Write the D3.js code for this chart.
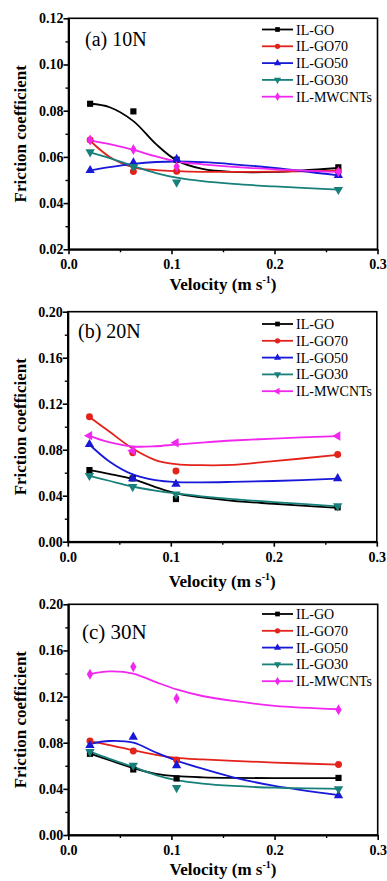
<!DOCTYPE html>
<html>
<head>
<meta charset="utf-8">
<script src="https://cdn.jsdelivr.net/npm/d3@7"></script>
<style>
  body { margin: 0; background: #fff; }
  svg text { font-family: "Liberation Serif", "Times New Roman", serif; }
</style>
</head>
<body>
<svg id="chart" width="387" height="881"></svg>
<script>
// sliding velocity of the measured points (m/s)
const velocity = [0.021, 0.063, 0.105, 0.262];
const fitVelocity = [0.021, 0.04, 0.063, 0.085, 0.105, 0.13, 0.16, 0.2, 0.262];

const seriesNames = ['IL-GO', 'IL-GO70', 'IL-GO50', 'IL-GO30', 'IL-MWCNTs'];
const seriesColors = ['#000000', '#e3221b', '#1818d8', '#17807a', '#f227ef'];

const panelTitles = ['(a) 10N', '(b) 20N', '(c) 30N'];
const xTicks = [0.0, 0.1, 0.2, 0.3];
const yTicksA = [0.02, 0.04, 0.06, 0.08, 0.10, 0.12];
const yTicksBC = [0.00, 0.04, 0.08, 0.12, 0.16, 0.20];

// (a) 10N
const pointsA = [
    [0.0830, 0.0797, 0.0588, 0.0555],
    [0.0673, 0.0537, 0.0538, 0.0536],
    [0.0542, 0.0575, 0.0590, 0.0520],
    [0.0621, 0.0558, 0.0490, 0.0458],
    [0.0673, 0.0632, 0.0558, 0.0536]
];
const fitA = [
    [0.0830, 0.0815, 0.0755, 0.0655, 0.0585, 0.0548, 0.0535, 0.0535, 0.0552],
    [0.0670, 0.0600, 0.0555, 0.0543, 0.0538, 0.0535, 0.0535, 0.0536, 0.0540],
    [0.0542, 0.0556, 0.0570, 0.0578, 0.0580, 0.0577, 0.0568, 0.0552, 0.0520],
    [0.0620, 0.0595, 0.0560, 0.0530, 0.0510, 0.0495, 0.0483, 0.0472, 0.0458],
    [0.0672, 0.0655, 0.0630, 0.0602, 0.0580, 0.0568, 0.0557, 0.0546, 0.0535]
];

// (b) 20N
const pointsB = [
    [0.0623, 0.0550, 0.0371, 0.0299],
    [0.1087, 0.0774, 0.0614, 0.0759],
    [0.0846, 0.0550, 0.0501, 0.0550],
    [0.0574, 0.0478, 0.0414, 0.0310],
    [0.0922, 0.0791, 0.0860, 0.0919]
];
const fitB = [
    [0.0622, 0.0590, 0.0545, 0.0475, 0.0420, 0.0385, 0.0355, 0.0330, 0.0295],
    [0.1085, 0.0960, 0.0810, 0.0710, 0.0675, 0.0665, 0.0668, 0.0700, 0.0755],
    [0.0845, 0.0700, 0.0585, 0.0535, 0.0518, 0.0516, 0.0520, 0.0528, 0.0548],
    [0.0572, 0.0530, 0.0480, 0.0445, 0.0420, 0.0395, 0.0370, 0.0345, 0.0308],
    [0.0920, 0.0865, 0.0828, 0.0830, 0.0845, 0.0862, 0.0880, 0.0897, 0.0918]
];

// (c) 30N
const pointsC = [
    [0.0704, 0.0568, 0.0490, 0.0495],
    [0.0815, 0.0728, 0.0650, 0.0611],
    [0.0777, 0.0850, 0.0603, 0.0343],
    [0.0722, 0.0603, 0.0409, 0.0400],
    [0.1394, 0.1458, 0.1183, 0.1086]
];
const fitC = [
    [0.0705, 0.0648, 0.0580, 0.0530, 0.0510, 0.0500, 0.0495, 0.0493, 0.0493],
    [0.0812, 0.0780, 0.0735, 0.0695, 0.0668, 0.0655, 0.0643, 0.0628, 0.0610],
    [0.0790, 0.0815, 0.0800, 0.0715, 0.0645, 0.0575, 0.0500, 0.0425, 0.0345],
    [0.0722, 0.0660, 0.0590, 0.0520, 0.0475, 0.0445, 0.0425, 0.0410, 0.0400],
    [0.1395, 0.1418, 0.1400, 0.1325, 0.1262, 0.1205, 0.1162, 0.1120, 0.1090]
];

const panels = [
    { title: panelTitles[0], points: pointsA, fit: fitA, yDomain: [0.02, 0.12], yTicks: yTicksA, minorStep: 0.01,
      left: 68.5, right: 377.5, top: 18.3, bottom: 249.3, titleX: 85, titleY: 46, titleSize: 20,
      legendY: 29.5, xTitleY: 290, lastMarker: 'diamond' },
    { title: panelTitles[1], points: pointsB, fit: fitB, yDomain: [0, 0.2], yTicks: yTicksBC, minorStep: 0.02,
      left: 67.8, right: 376.8, top: 311.7, bottom: 541.7, titleX: 78, titleY: 338, titleSize: 20,
      legendY: 324, xTitleY: 587, lastMarker: 'left' },
    { title: panelTitles[2], points: pointsC, fit: fitC, yDomain: [0, 0.2], yTicks: yTicksBC, minorStep: 0.02,
      left: 68.3, right: 377.7, top: 604.3, bottom: 835, titleX: 82, titleY: 639, titleSize: 21,
      legendY: 614, xTitleY: 875, lastMarker: 'diamond' }
];

const serif = '"Liberation Serif", "Times New Roman", serif';
const svg = d3.select('#chart');

function markerPath(kind, size) {
    const types = {
        square: d3.symbolSquare, circle: d3.symbolCircle, up: d3.symbolTriangle,
        down: d3.symbolTriangle, diamond: d3.symbolDiamond, left: d3.symbolTriangle
    };
    return d3.symbol().type(types[kind]).size(size)();
}
function markerRotate(kind) {
    if (kind === 'down') return 180;
    if (kind === 'left') return -90;
    return 0;
}

panels.forEach(p => {
    const x = d3.scaleLinear().domain([0, 0.3]).range([p.left, p.right]);
    const y = d3.scaleLinear().domain(p.yDomain).range([p.bottom, p.top]);
    const markers = ['square', 'circle', 'up', 'down', p.lastMarker];

    const g = svg.append('g').attr('font-family', serif);

    // frame
    g.append('rect')
        .attr('x', p.left).attr('y', p.top)
        .attr('width', p.right - p.left).attr('height', p.bottom - p.top)
        .attr('fill', 'none').attr('stroke', '#000').attr('stroke-width', 1.6);

    // bottom axis
    const xAxis = g.append('g')
        .attr('transform', `translate(0, ${p.bottom})`)
        .call(d3.axisBottom(x).tickValues(xTicks).tickSize(5).tickSizeOuter(0).tickFormat(d3.format('.1f')))
        .attr('font-family', serif);
    xAxis.select('.domain').attr('stroke-width', 2);
    xAxis.selectAll('.tick line').attr('stroke-width', 1.6);
    xAxis.selectAll('text')
        .attr('font-size', 14).attr('font-weight', 'bold').attr('fill', '#000')
        .attr('dy', '0.85em');
    g.append('g')
        .attr('transform', `translate(0, ${p.bottom})`)
        .call(d3.axisBottom(x).tickValues([0.05, 0.15, 0.25]).tickSize(3).tickFormat(''))
        .call(s => s.select('.domain').remove())
        .selectAll('.tick line').attr('stroke-width', 1.4);

    // left axis
    const yAxis = g.append('g')
        .attr('transform', `translate(${p.left}, 0)`)
        .call(d3.axisLeft(y).tickValues(p.yTicks).tickSize(5).tickSizeOuter(0).tickFormat(d3.format('.2f')))
        .attr('font-family', serif);
    yAxis.select('.domain').attr('stroke-width', 2);
    yAxis.selectAll('.tick line').attr('stroke-width', 1.6);
    yAxis.selectAll('text')
        .attr('font-size', 14).attr('font-weight', 'bold').attr('fill', '#000')
        .attr('x', -5);
    const minorY = d3.range(p.yDomain[0] + p.minorStep, p.yDomain[1], p.minorStep * 2);
    g.append('g')
        .attr('transform', `translate(${p.left}, 0)`)
        .call(d3.axisLeft(y).tickValues(minorY).tickSize(3).tickFormat(''))
        .call(s => s.select('.domain').remove())
        .selectAll('.tick line').attr('stroke-width', 1.4);

    // fitted curves
    const line = d3.line()
        .x((d, i) => x(fitVelocity[i]))
        .y(d => y(d))
        .curve(d3.curveCatmullRom.alpha(0.5));
    p.fit.forEach((vals, s) => {
        g.append('path')
            .attr('d', line(vals))
            .attr('fill', 'none')
            .attr('stroke', seriesColors[s])
            .attr('stroke-width', 1.8);
    });

    // measured points
    p.points.forEach((vals, s) => {
        g.selectAll(null)
            .data(vals)
            .enter()
            .append('path')
            .attr('d', markerPath(markers[s], markers[s] === 'diamond' ? 34 : 38))
            .attr('transform', (d, i) => `translate(${x(velocity[i])}, ${y(d)}) rotate(${markerRotate(markers[s])})`)
            .attr('fill', seriesColors[s]);
    });

    // panel label
    g.append('text')
        .attr('x', p.titleX).attr('y', p.titleY)
        .attr('font-size', p.titleSize)
        .text(p.title);

    // legend
    seriesNames.forEach((name, s) => {
        const ly = p.legendY + s * 16.8;
        g.append('line')
            .attr('x1', 262).attr('x2', 293).attr('y1', ly).attr('y2', ly)
            .attr('stroke', seriesColors[s]).attr('stroke-width', 1.8);
        g.append('path')
            .attr('d', markerPath(markers[s], 22))
            .attr('transform', `translate(277.5, ${ly}) rotate(${markerRotate(markers[s])})`)
            .attr('fill', seriesColors[s]);
        g.append('text')
            .attr('x', 296).attr('y', ly + 5)
            .attr('font-size', 14)
            .text(name);
    });

    // axis titles
    g.append('text')
        .attr('transform', `translate(26, ${(p.top + p.bottom) / 2}) rotate(-90)`)
        .attr('text-anchor', 'middle')
        .attr('font-size', 17).attr('font-weight', 'bold')
        .text('Friction coefficient');

    const xt = g.append('text')
        .attr('x', (p.left + p.right) / 2).attr('y', p.xTitleY)
        .attr('text-anchor', 'middle')
        .attr('font-size', 17).attr('font-weight', 'bold');
    xt.append('tspan').text('Velocity (m s');
    xt.append('tspan').attr('font-size', 10).attr('dy', -7).text('-1');
    xt.append('tspan').attr('dy', 7).text(')');
});
</script>
</body>
</html>
